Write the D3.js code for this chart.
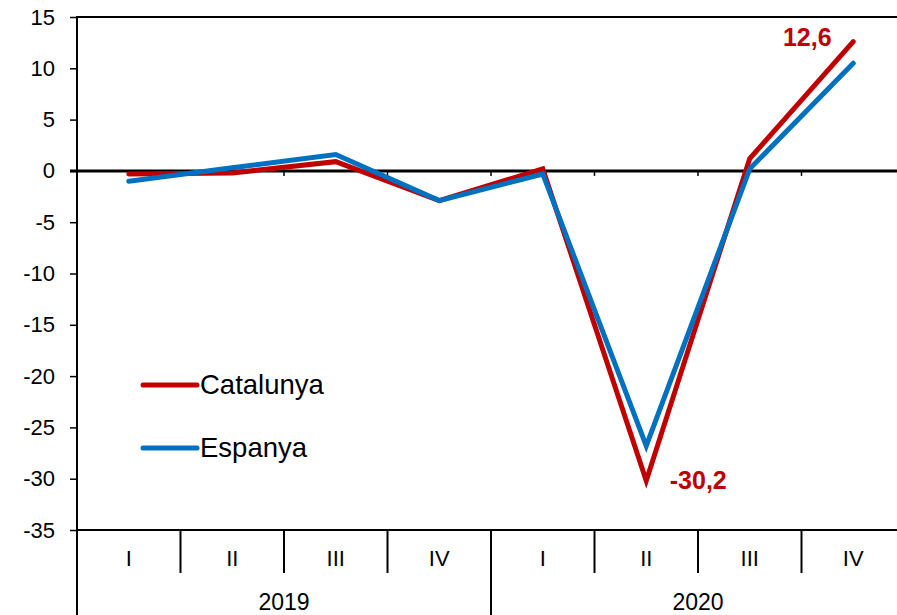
<!DOCTYPE html>
<html>
<head>
<meta charset="utf-8">
<style>
  body { margin: 0; background: #fff; }
  svg { display: block; font-family: "Liberation Sans", Arial, sans-serif; }
</style>
</head>
<body>
<div id="chart"></div>
<script src="https://cdn.jsdelivr.net/npm/d3@7"></script>
<script>
// data
var quarters = ["I", "II", "III", "IV", "I", "II", "III", "IV"];
var years = ["2019", "2020"];
var catalunya = [-0.3, -0.2, 0.9, -2.9, 0.2, -30.2, 1.2, 12.6];
var espanya = [-1.0, 0.3, 1.6, -2.9, -0.3, -26.8, 0.2, 10.5];
var yTicks = [-35, -30, -25, -20, -15, -10, -5, 0, 5, 10, 15];

var W = 897, H = 615;
var plotL = 77, plotR = 905, plotT = 17, plotB = 530;
var red = "#C00000", blue = "#0070C0";

var svg = d3.select("#chart").append("svg")
  .attr("width", W).attr("height", H);

var idx = d3.range(quarters.length);
var x = d3.scaleBand().domain(idx).range([plotL, plotR]);
var y = d3.scaleLinear().domain([-35, 15]).range([plotB, plotT]);

// frame: top and bottom lines
svg.append("line").attr("x1", plotL).attr("x2", plotR).attr("y1", plotT).attr("y2", plotT)
  .attr("stroke", "#000").attr("stroke-width", 2);
svg.append("line").attr("x1", plotL).attr("x2", plotR).attr("y1", plotB).attr("y2", plotB)
  .attr("stroke", "#000").attr("stroke-width", 2);

// y axis
var yAxis = svg.append("g")
  .attr("transform", "translate(" + plotL + ",0)")
  .call(d3.axisLeft(y).tickValues(yTicks).tickSize(7).tickPadding(15)
    .tickFormat(function(d){ return d; }));
yAxis.select(".domain").remove();
yAxis.selectAll(".tick line").attr("stroke-width", 1.5);
yAxis.selectAll("text").attr("font-size", 22).attr("fill", "#000")
  .attr("font-family", "Liberation Sans, Arial, sans-serif");
svg.append("line").attr("x1", plotL).attr("x2", plotL).attr("y1", plotT - 1).attr("y2", H)
  .attr("stroke", "#000").attr("stroke-width", 2);

// zero line with small ticks
svg.append("line").attr("x1", plotL - 7).attr("x2", plotR).attr("y1", y(0)).attr("y2", y(0))
  .attr("stroke", "#000").attr("stroke-width", 3);
svg.selectAll(".zt").data(idx.slice(1)).enter().append("line")
  .attr("x1", function(d){ return x(d); }).attr("x2", function(d){ return x(d); })
  .attr("y1", y(0)).attr("y2", y(0) + 5)
  .attr("stroke", "#000").attr("stroke-width", 1.5);

// category dividers
svg.selectAll(".div").data(idx.slice(1)).enter().append("line")
  .attr("x1", function(d){ return x(d); }).attr("x2", function(d){ return x(d); })
  .attr("y1", plotB).attr("y2", function(d){ return d % 4 === 0 ? H : plotB + 43; })
  .attr("stroke", "#000").attr("stroke-width", 2);

svg.selectAll(".ql").data(idx).enter().append("text")
  .attr("x", function(d){ return x(d) + x.bandwidth() / 2; })
  .attr("y", 566)
  .attr("text-anchor", "middle").attr("font-size", 22)
  .text(function(d){ return quarters[d]; });

svg.selectAll(".yl").data(years).enter().append("text")
  .attr("x", function(d, i){ return x(i * 4) + x.bandwidth() * 2; })
  .attr("y", 610)
  .attr("text-anchor", "middle").attr("font-size", 23)
  .text(function(d){ return d; });

// lines
var line = d3.line()
  .x(function(d, i){ return x(i) + x.bandwidth() / 2; })
  .y(function(d){ return y(d); });

[[catalunya, red], [espanya, blue]].forEach(function(s){
  svg.append("path").datum(s[0])
    .attr("d", line)
    .attr("fill", "none").attr("stroke", s[1]).attr("stroke-width", 5)
    .attr("stroke-linecap", "round").attr("stroke-linejoin", "miter");
});

// value labels
svg.append("text")
  .attr("x", x(7) + x.bandwidth() / 2 - 46).attr("y", y(12.6) + 4)
  .attr("text-anchor", "middle").attr("font-size", 25).attr("font-weight", "bold")
  .attr("fill", red).text("12,6");
svg.append("text")
  .attr("x", x(5) + x.bandwidth() / 2 + 52).attr("y", y(-30.2) + 8)
  .attr("text-anchor", "middle").attr("font-size", 25).attr("font-weight", "bold")
  .attr("fill", red).text("-30,2");

// legend
var legend = [["Catalunya", red, 385], ["Espanya", blue, 448]];
legend.forEach(function(l){
  svg.append("line").attr("x1", 143).attr("x2", 197).attr("y1", l[2]).attr("y2", l[2])
    .attr("stroke", l[1]).attr("stroke-width", 5).attr("stroke-linecap", "round");
  svg.append("text").attr("x", 200).attr("y", l[2] + 9)
    .attr("font-size", 27.5).text(l[0]);
});
</script>
</body>
</html>
